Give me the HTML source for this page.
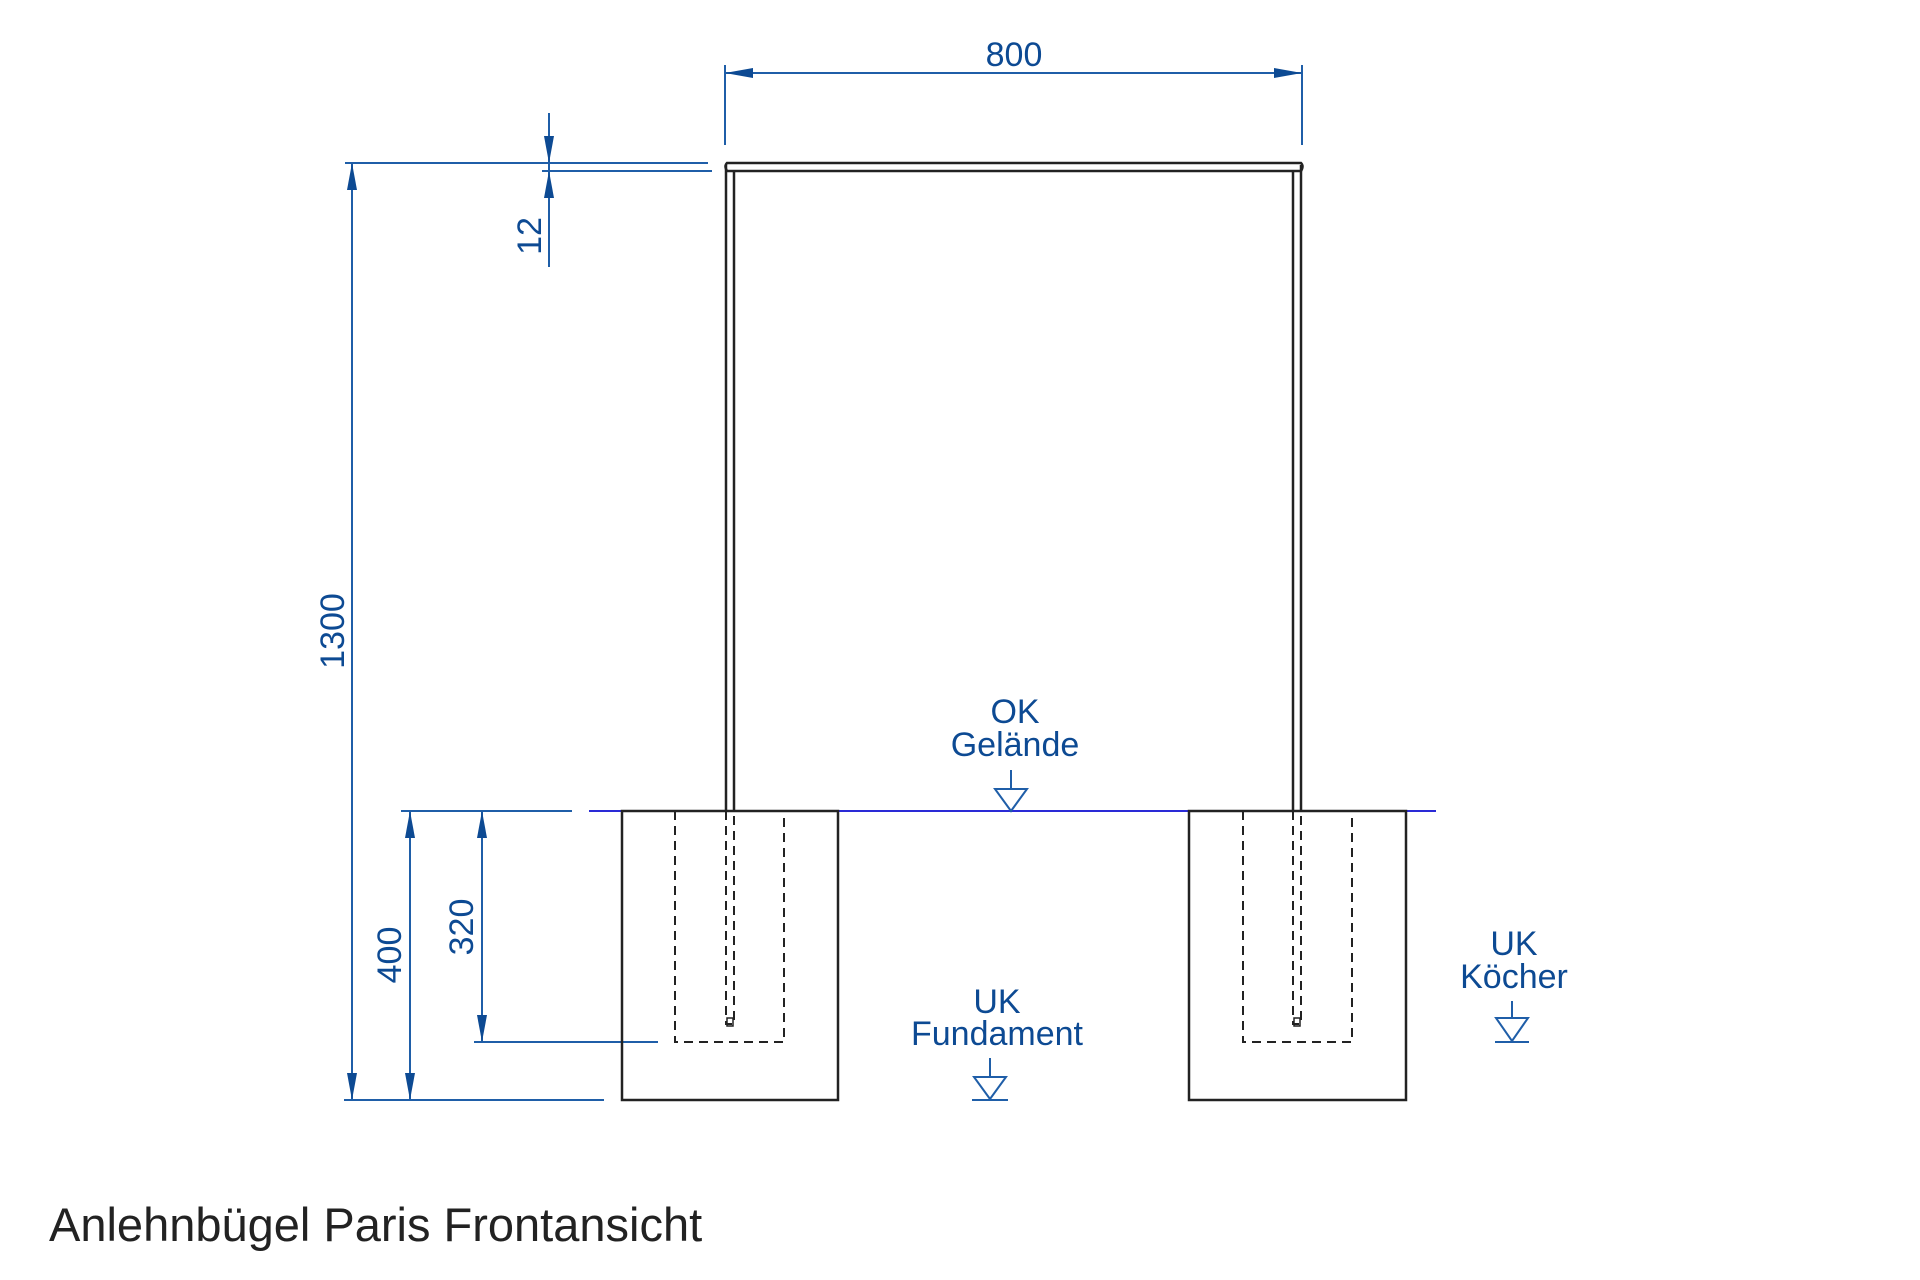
<!DOCTYPE html>
<html><head><meta charset="utf-8"><style>
html,body{margin:0;padding:0;background:#fff;width:1920px;height:1280px;overflow:hidden}
svg{display:block}
.d{stroke:#1f5ea8;stroke-width:2;fill:none}
.k{stroke:#222;stroke-width:2.5;fill:none}
.dash{stroke:#222;stroke-width:2;fill:none;stroke-dasharray:9,6}
.a{fill:#0d4a93}
.t{font-family:"Liberation Sans",sans-serif;font-size:34px;fill:#0d4a93}
</style></head><body>
<svg width="1920" height="1280" viewBox="0 0 1920 1280" xmlns="http://www.w3.org/2000/svg">
<line class="d" x1="725" y1="65" x2="725" y2="145"/>
<line class="d" x1="1302" y1="65" x2="1302" y2="145"/>
<line class="d" x1="725" y1="73" x2="1302" y2="73"/>
<polygon class="a" points="725,73 753,68 753,78"/>
<polygon class="a" points="1302,73 1274,68 1274,78"/>
<text class="t" x="1014" y="66" text-anchor="middle">800</text>
<line class="d" x1="345" y1="163" x2="708" y2="163"/>
<line class="d" x1="542" y1="171" x2="712" y2="171"/>
<line class="d" x1="549" y1="113" x2="549" y2="267"/>
<polygon class="a" points="549,163 544,136 554,136"/>
<polygon class="a" points="549,171 544,198 554,198"/>
<text class="t" transform="translate(541,236) rotate(-90)" text-anchor="middle">12</text>
<line class="d" x1="352" y1="163" x2="352" y2="1100"/>
<polygon class="a" points="352,163 347,190 357,190"/>
<polygon class="a" points="352,1100 347,1073 357,1073"/>
<text class="t" transform="translate(344,631) rotate(-90)" text-anchor="middle">1300</text>
<line class="d" x1="401" y1="811" x2="572" y2="811"/>
<line class="d" x1="474" y1="1042" x2="658" y2="1042"/>
<line class="d" x1="344" y1="1100" x2="604" y2="1100"/>
<line class="d" x1="410" y1="811" x2="410" y2="1100"/>
<polygon class="a" points="410,811 405,838 415,838"/>
<polygon class="a" points="410,1100 405,1073 415,1073"/>
<text class="t" transform="translate(401,955) rotate(-90)" text-anchor="middle">400</text>
<line class="d" x1="482" y1="811" x2="482" y2="1042"/>
<polygon class="a" points="482,811 477,838 487,838"/>
<polygon class="a" points="482,1042 477,1015 487,1015"/>
<text class="t" transform="translate(473,927) rotate(-90)" text-anchor="middle">320</text>
<line x1="589" y1="811" x2="1436" y2="811" stroke="#2a2ad6" stroke-width="2"/>
<path class="k" d="M727,163 L1301,163 Q1304,166 1301,171 L727,171 Q724,166 727,163 Z" stroke-width="2"/>
<line class="k" x1="726" y1="165" x2="726" y2="811" stroke-width="2"/>
<line class="k" x1="734" y1="171" x2="734" y2="811" stroke-width="2"/>
<line class="k" x1="1293" y1="171" x2="1293" y2="811" stroke-width="2"/>
<line class="k" x1="1301" y1="165" x2="1301" y2="811" stroke-width="2"/>
<rect class="k" x="622" y="811" width="216" height="289"/>
<rect class="k" x="1189" y="811" width="217" height="289"/>
<path class="dash" d="M675,811 V1042 H784 V811"/>
<path class="dash" d="M1243,811 V1042 H1352 V811"/>
<path class="dash" d="M726,811 V1024 H734 V811" stroke-dasharray="7,5"/>
<path class="dash" d="M1293,811 V1024 H1301 V811" stroke-dasharray="7,5"/>
<rect x="727" y="1018" width="6" height="8" fill="none" stroke="#222" stroke-width="1.5"/>
<rect x="1294" y="1018" width="6" height="8" fill="none" stroke="#222" stroke-width="1.5"/>
<g class="d">
<line x1="1011" y1="770" x2="1011" y2="789"/><polygon points="995,789 1027,789 1011,811"/>
<line x1="990" y1="1058" x2="990" y2="1077"/><polygon points="974,1077 1006,1077 990,1099"/><line x1="972" y1="1100" x2="1008" y2="1100"/>
<line x1="1512" y1="1001" x2="1512" y2="1018"/><polygon points="1496,1018 1528,1018 1512,1041"/><line x1="1495" y1="1042" x2="1529" y2="1042"/>
</g>
<text class="t" x="1015" y="723" text-anchor="middle">OK</text>
<text class="t" x="1015" y="756" text-anchor="middle">Gelände</text>
<text class="t" x="997" y="1013" text-anchor="middle">UK</text>
<text class="t" x="997" y="1045" text-anchor="middle">Fundament</text>
<text class="t" x="1514" y="955" text-anchor="middle">UK</text>
<text class="t" x="1514" y="988" text-anchor="middle">Köcher</text>
<text x="49" y="1241" font-family="Liberation Sans, sans-serif" font-size="47" fill="#222" style="font-weight:300">Anlehnbügel Paris Frontansicht</text>
</svg>
</body></html>
